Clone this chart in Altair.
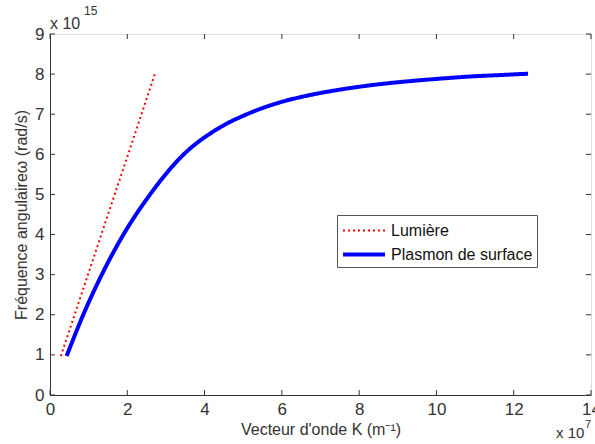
import altair as alt
import pandas as pd

# Data (k in units of 1e7 m^-1, omega in units of 1e15 rad/s)
light_k = [0.28, 2.72]
light_w = [0.97, 8.02]

plasmon_k = [0.43, 0.86, 1.34, 1.90, 2.59, 3.45, 4.31, 5.17, 6.04, 6.64, 7.68,
             8.54, 9.14, 10.0, 10.87, 11.73, 12.37]
plasmon_w = [0.97, 2.0, 3.0, 4.0, 5.0, 5.99, 6.62, 7.03, 7.32, 7.46, 7.64,
             7.75, 7.81, 7.88, 7.94, 7.98, 8.01]

series_names = ["Lumière", "Plasmon de surface"]
x_ticks = [0, 2, 4, 6, 8, 10, 12, 14]
y_ticks = [0, 1, 2, 3, 4, 5, 6, 7, 8, 9]

W, H = 541, 361
FONT = "Liberation Sans"
AXC = "#333333"

df = pd.concat([
    pd.DataFrame({"k": light_k, "w": light_w, "s": series_names[0], "o": range(len(light_k))}),
    pd.DataFrame({"k": plasmon_k, "w": plasmon_w, "s": series_names[1], "o": range(len(plasmon_k))}),
])

xscale = alt.Scale(domain=[0, 14], nice=False, zero=False)
yscale = alt.Scale(domain=[0, 9], nice=False, zero=False)

lines = alt.Chart(df).mark_line(interpolate="monotone", strokeCap="butt").encode(
    x=alt.X("k:Q", scale=xscale,
            axis=alt.Axis(values=x_ticks, title="Vecteur d'onde K (m⁻¹)", grid=False,
                          ticks=False, labelPadding=6, labelFontSize=17, titleFontSize=16,
                          titlePadding=4, labelFont=FONT, titleFont=FONT,
                          labelColor=AXC, titleColor=AXC, titleFontWeight="normal",
                          domainColor=AXC, labelFlush=False)),
    y=alt.Y("w:Q", scale=yscale,
            axis=alt.Axis(values=y_ticks, title="Fréquence angulaireω (rad/s)", grid=False,
                          ticks=False, labelPadding=6, labelFontSize=17, titleFontSize=16,
                          titlePadding=5, labelFont=FONT, titleFont=FONT,
                          labelColor=AXC, titleColor=AXC, titleFontWeight="normal",
                          domainColor=AXC, labelFlush=False)),
    order="o:Q",
    color=alt.Color("s:N", scale=alt.Scale(domain=series_names, range=["#ff0000", "#0000ff"]),
                    legend=alt.Legend(title=None, orient="none", legendX=287, legendY=181,
                                      symbolType="M-1,0H3", symbolSize=441, labelOffset=25,
                                      labelFontSize=16, labelFont=FONT, labelColor="#111111",
                                      strokeColor="#555555", padding=4, rowPadding=3,
                                      symbolStrokeWidth=3, fillColor="white")),
    strokeDash=alt.StrokeDash("s:N", scale=alt.Scale(domain=series_names, range=[[2, 3], [1, 0]]),
                              legend=None),
    strokeWidth=alt.StrokeWidth("s:N", scale=alt.Scale(domain=series_names, range=[2, 4]),
                                legend=None),
)

xt = pd.DataFrame({"k": x_ticks})
yt = pd.DataFrame({"w": y_ticks})

tb = alt.Chart(xt).mark_rule(color=AXC).encode(x=alt.X("k:Q", scale=xscale), y=alt.value(H), y2=alt.value(H - 5))
tt = alt.Chart(xt).mark_rule(color=AXC).encode(x=alt.X("k:Q", scale=xscale), y=alt.value(0), y2=alt.value(5))
tl = alt.Chart(yt).mark_rule(color=AXC).encode(y=alt.Y("w:Q", scale=yscale), x=alt.value(0), x2=alt.value(5))
tr = alt.Chart(yt).mark_rule(color=AXC).encode(y=alt.Y("w:Q", scale=yscale), x=alt.value(W), x2=alt.value(W - 5))

def txt(s, x, y, size):
    return alt.Chart(pd.DataFrame({"t": [s]})).mark_text(
        font=FONT, fontSize=size, color=AXC, align="left", baseline="middle"
    ).encode(text="t:N", x=alt.value(x), y=alt.value(y))

ann = (txt("x 10", 0, -10, 16) + txt("15", 34, -23, 12)
       + txt("x 10", 506, 399, 15) + txt("7", 535, 391, 11))

chart = alt.layer(lines, tb, tt, tl, tr, ann).properties(
    width=W, height=H,
    padding={"left": 50, "top": 34, "right": 4, "bottom": 49},
    autosize=alt.AutoSizeParams(type="none"),
).configure_view(stroke=AXC, strokeWidth=1).configure(background="white")

chart.save("out.html", embed_options={"renderer": "svg", "actions": False})
